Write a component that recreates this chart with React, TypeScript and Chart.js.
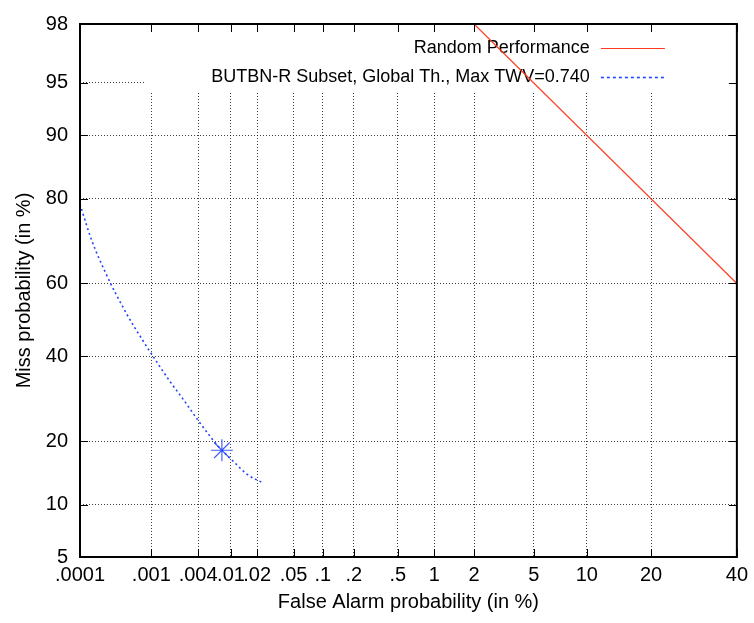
import React, { useEffect, useRef } from 'react';
import { Chart, registerables } from 'chart.js';

Chart.register(...registerables);

// ---- Data (percent values) ----
const xTickValues = [0.0001, 0.001, 0.004, 0.01, 0.02, 0.05, 0.1, 0.2, 0.5, 1, 2, 5, 10, 20, 40];
const xTickLabels = ['.0001', '.001', '.004', '.01', '.02', '.05', '.1', '.2', '.5', '1', '2', '5', '10', '20', '40'];
const yTickValues = [5, 10, 20, 40, 60, 80, 90, 95, 98];
const yTickLabels = ['5', '10', '20', '40', '60', '80', '90', '95', '98'];

const randomFA = [2, 40];
const randomMiss = [98, 60];

const detFA = [0.0001, 0.000148, 0.000236, 0.000439, 0.000744, 0.00124, 0.00177, 0.00262, 0.00404, 0.00592, 0.0078, 0.0107, 0.0154, 0.0234];
const detMiss = [78.9, 71.0, 62.7, 52.5, 44.8, 37.9, 33.4, 29.0, 24.2, 20.5, 18.3, 16.3, 14.2, 12.9];

const maxTwvFA = [0.0078];
const maxTwvMiss = [18.3];

const seriesNames = ['Random Performance', 'BUTBN-R Subset, Global Th., Max TWV=0.740'];

// ---- Normal deviate (probit) transform ----
function probit(p: number): number {
  const a = [-3.969683028665376e1, 2.209460984245205e2, -2.759285104469687e2, 1.38357751867269e2, -3.066479806614716e1, 2.506628277459239];
  const b = [-5.447609879822406e1, 1.615858368580409e2, -1.556989798598866e2, 6.680131188771972e1, -1.328068155288572e1];
  const c = [-7.784894002430293e-3, -3.223964580411365e-1, -2.400758277161838, -2.549732539343734, 4.374664141464968, 2.938163982698783];
  const d = [7.784695709041462e-3, 3.224671290700398e-1, 2.445134137142996, 3.754408661907416];
  const pl = 0.02425;
  const ph = 1 - pl;
  if (p < pl) {
    const q = Math.sqrt(-2 * Math.log(p));
    return (((((c[0] * q + c[1]) * q + c[2]) * q + c[3]) * q + c[4]) * q + c[5]) / ((((d[0] * q + d[1]) * q + d[2]) * q + d[3]) * q + 1);
  }
  if (p <= ph) {
    const q = p - 0.5;
    const r = q * q;
    return ((((((a[0] * r + a[1]) * r + a[2]) * r + a[3]) * r + a[4]) * r + a[5]) * q) / (((((b[0] * r + b[1]) * r + b[2]) * r + b[3]) * r + b[4]) * r + 1);
  }
  const q = Math.sqrt(-2 * Math.log(1 - p));
  return -(((((c[0] * q + c[1]) * q + c[2]) * q + c[3]) * q + c[4]) * q + c[5]) / ((((d[0] * q + d[1]) * q + d[2]) * q + d[3]) * q + 1);
}
const toZ = (pct: number) => probit(pct / 100);

const FONT = "'Liberation Sans', Arial, Helvetica, sans-serif";
const RED = '#ff3b1f';
const BLUE = '#2243ff';

const decorPlugin = {
  id: 'detDecor',
  beforeDatasetsDraw(chart: any) {
    const { ctx, chartArea: ca } = chart;
    ctx.save();
    // key box (opaque, hides grid)
    const boxLeft = ca.left + 65;
    const boxBottom = ca.top + 68;
    ctx.fillStyle = '#ffffff';
    ctx.fillRect(boxLeft, ca.top, ca.right - boxLeft, boxBottom - ca.top);
    // key entries
    ctx.font = `18px ${FONT}`;
    ctx.fillStyle = '#000';
    ctx.textAlign = 'right';
    ctx.textBaseline = 'middle';
    const textRight = ca.right - 147;
    const rows = [ca.top + 24, ca.top + 53];
    ctx.fillText(seriesNames[0], textRight, rows[0]);
    ctx.fillText(seriesNames[1], textRight, rows[1]);
    ctx.lineWidth = 1.2;
    ctx.strokeStyle = RED;
    ctx.beginPath();
    ctx.moveTo(ca.right - 136, rows[0] + 0.5);
    ctx.lineTo(ca.right - 72, rows[0] + 0.5);
    ctx.stroke();
    ctx.strokeStyle = '#1f4bff';
    ctx.lineWidth = 1.6;
    ctx.setLineDash([3, 3]);
    ctx.beginPath();
    ctx.moveTo(ca.right - 136, rows[1] + 0.5);
    ctx.lineTo(ca.right - 72, rows[1] + 0.5);
    ctx.stroke();
    ctx.restore();
  },
  afterDatasetsDraw(chart: any) {
    const { ctx, chartArea: ca, scales } = chart;
    ctx.save();
    ctx.strokeStyle = '#000';
    ctx.lineWidth = 1;
    const tl = 8;
    ctx.beginPath();
    xTickValues.forEach((v) => {
      const px = Math.round(scales.x.getPixelForValue(toZ(v))) + 0.5;
      ctx.moveTo(px, ca.bottom);
      ctx.lineTo(px, ca.bottom - tl);
      ctx.moveTo(px, ca.top);
      ctx.lineTo(px, ca.top + tl);
    });
    yTickValues.forEach((v) => {
      const py = Math.round(scales.y.getPixelForValue(toZ(v))) + 0.5;
      ctx.moveTo(ca.left, py);
      ctx.lineTo(ca.left + tl, py);
      ctx.moveTo(ca.right, py);
      ctx.lineTo(ca.right - tl, py);
    });
    ctx.stroke();
    ctx.lineWidth = 2;
    ctx.strokeRect(ca.left, ca.top, ca.right - ca.left, ca.bottom - ca.top);
    ctx.restore();
  },
};

export default function App() {
  const canvasRef = useRef<HTMLCanvasElement | null>(null);

  useEffect(() => {
    if (!canvasRef.current) return;
    const gridStyle = {
      color: 'rgba(0,0,0,0.75)',
      lineWidth: 1,
      drawTicks: false,
    };
    const chart = new Chart(canvasRef.current, {
      type: 'scatter',
      data: {
        datasets: [
          {
            label: seriesNames[0],
            data: randomFA.map((f, i) => ({ x: toZ(f), y: toZ(randomMiss[i]) })),
            showLine: true,
            borderColor: RED,
            borderWidth: 1.2,
            pointRadius: 0,
          },
          {
            label: seriesNames[1],
            data: detFA.map((f, i) => ({ x: toZ(f), y: toZ(detMiss[i]) })),
            showLine: true,
            borderColor: BLUE,
            borderWidth: 1.6,
            borderDash: [2, 3],
            pointRadius: 0,
            cubicInterpolationMode: 'monotone',
          },
          {
            label: 'Max TWV',
            data: maxTwvFA.map((f, i) => ({ x: toZ(f), y: toZ(maxTwvMiss[i]) })),
            showLine: false,
            pointStyle: 'star',
            pointRadius: 11,
            borderColor: '#4563ff',
            borderWidth: 1.2,
            backgroundColor: '#4563ff',
          },
        ],
      },
      options: {
        animation: false,
        responsive: true,
        maintainAspectRatio: false,
        layout: { padding: { top: 15, right: 15, left: 0, bottom: 0 } },
        plugins: { legend: { display: false }, tooltip: { enabled: false } },
        scales: {
          x: {
            type: 'linear',
            min: toZ(xTickValues[0]),
            max: toZ(xTickValues[xTickValues.length - 1]),
            afterBuildTicks: (s: any) => {
              s.ticks = xTickValues.map((v) => ({ value: toZ(v) }));
            },
            afterFit: (s: any) => {
              s.height = 66;
            },
            ticks: {
              autoSkip: false,
              maxRotation: 0,
              minRotation: 0,
              padding: 6,
              color: '#000',
              font: { family: FONT, size: 20 },
              callback: (_v: any, i: number) => xTickLabels[i],
            },
            grid: gridStyle,
            border: { display: false, dash: [1, 2] },
            title: {
              display: true,
              text: 'False Alarm probability (in %)',
              color: '#000',
              font: { family: FONT, size: 20 },
              padding: { top: 0, bottom: 9 },
            },
          },
          y: {
            type: 'linear',
            min: toZ(yTickValues[0]),
            max: toZ(yTickValues[yTickValues.length - 1]),
            afterBuildTicks: (s: any) => {
              s.ticks = yTickValues.map((v) => ({ value: toZ(v) }));
            },
            afterFit: (s: any) => {
              s.width = 80;
            },
            ticks: {
              autoSkip: false,
              padding: 12,
              color: '#000',
              font: { family: FONT, size: 20 },
              callback: (_v: any, i: number) => yTickLabels[i],
            },
            grid: gridStyle,
            border: { display: false, dash: [1, 2] },
            title: {
              display: true,
              text: 'Miss probability (in %)',
              color: '#000',
              font: { family: FONT, size: 20 },
              padding: { top: 12, bottom: 0 },
            },
          },
        },
      },
      plugins: [decorPlugin],
    } as any);
    return () => chart.destroy();
  }, []);

  return (
    <div style={{ position: 'absolute', left: 0, top: 0, width: 754, height: 623, background: '#fff' }}>
      <canvas ref={canvasRef} />
    </div>
  );
}
